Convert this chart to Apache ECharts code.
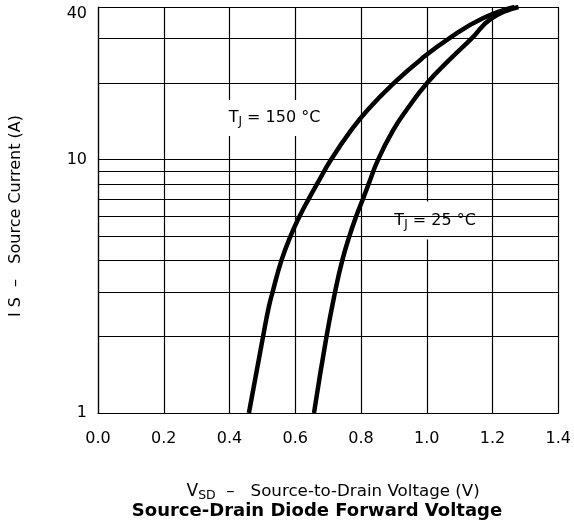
<!DOCTYPE html>
<html>
<head>
<meta charset="utf-8">
<script src="https://cdn.jsdelivr.net/npm/echarts@6/dist/echarts.min.js"></script>
<style>
html, body { margin: 0; padding: 0; background: #fff; }
#chart { width: 574px; height: 525px; }
</style>
</head>
<body>
<div id="chart"></div>
<script>
// axis ticks
const xTicks = [0, 0.2, 0.4, 0.6, 0.8, 1.0, 1.2, 1.4];
const yLabelValues = [1, 10, 40];
const yGridValues = [1, 2, 3, 4, 5, 6, 7, 8, 9, 10, 20, 30, 40];

// TJ = 150 °C  (VSD in V, IS in A)
const vsd150 = [0.459, 0.502, 0.519, 0.531, 0.558, 0.586, 0.614, 0.641, 0.666, 0.709, 0.769, 0.822, 0.903, 0.983, 1.067, 1.169, 1.267];
const is150  = [1, 2, 2.6, 3, 4, 5, 6, 7, 8, 10, 13, 15.8, 20.2, 24.9, 30, 36, 40];

// TJ = 25 °C
const vsd25 = [0.657, 0.695, 0.721, 0.743, 0.765, 0.786, 0.806, 0.823, 0.852, 0.897, 0.940, 1.003, 1.071, 1.136, 1.196, 1.279];
const is25  = [1, 2, 3, 4, 5, 6, 7, 8, 10, 13, 15.8, 20.2, 24.9, 30, 36, 40];

// curve labels, placed at data coordinates
const labelText = ['150', '25'];
const labelV = [0.537, 0.998];
const labelI = [14.6, 5.75];

const FONT = "DejaVu Sans, Liberation Sans, sans-serif";
const pair = (xs, ys) => xs.map((x, i) => [x, ys[i]]);

let chart = echarts.init(document.getElementById("chart"));

chart.setOption({
  animation: false,
  textStyle: { fontFamily: FONT, color: "#000" },
  grid: { left: 96, right: 15, top: 7, bottom: 112 },
  title: {
    text: "Source-Drain Diode Forward Voltage",
    left: 312,
    top: 497,
    textAlign: "center",
    textStyle: { fontSize: 18, fontWeight: "bold", color: "#000", fontFamily: FONT }
  },
  xAxis: {
    type: "value",
    min: 0,
    max: 1.4,
    interval: 0.2,
    name: "{v|V}{s|SD}{n|  –   Source-to-Drain Voltage (V)}",
    nameLocation: "middle",
    nameGap: 68,
    nameTextStyle: {
      padding: [0, 0, 0, 10],
      rich: {
        v: { fontSize: 17, color: "#000", fontFamily: FONT },
        s: { fontSize: 12.5, color: "#000", fontFamily: FONT, padding: [8, 0, 0, 0] },
        n: { fontSize: 16.7, color: "#000", fontFamily: FONT }
      }
    },
    axisTick: { show: false },
    axisLine: { lineStyle: { color: "#000", width: 1.2 } },
    axisLabel: {
      fontSize: 16,
      color: "#000",
      margin: 18,
      formatter: v => v.toFixed(1)
    },
    splitLine: { show: true, lineStyle: { color: "#000", width: 1.2 } }
  },
  yAxis: {
    type: "log",
    logBase: 10,
    min: 1,
    max: 40,
    name: "I S  –   Source Current (A)",
    nameLocation: "middle",
    nameGap: 74,
    nameTextStyle: { fontSize: 16, color: "#000", padding: [0, 12, 0, 0] },
    axisTick: { show: false },
    axisLine: { show: true, lineStyle: { color: "#000", width: 1.2 } },
    axisLabel: {
      fontSize: 16,
      color: "#000",
      margin: 11,
      customValues: yLabelValues,
      formatter: v => (v === 40 ? "{t|40}" : String(v)),
      rich: { t: { fontSize: 16, color: "#000", fontFamily: FONT, padding: [14, 0, 0, 0] } }
    },
    splitLine: { show: false }
  },
  series: [
    {
      // horizontal grid lines of the log axis
      type: "line",
      data: [],
      z: 1,
      markLine: {
        silent: true,
        symbol: "none",
        label: { show: false },
        lineStyle: { color: "#000", width: 1.2, type: "solid" },
        data: yGridValues.map(v => ({ yAxis: v }))
      }
    },
    {
      name: "TJ = 150 °C",
      type: "line",
      z: 5,
      smooth: 0.5,
      showSymbol: false,
      lineStyle: { color: "#000", width: 4.5 },
      data: pair(vsd150, is150)
    },
    {
      name: "TJ = 25 °C",
      type: "line",
      z: 5,
      smooth: 0.5,
      showSymbol: false,
      lineStyle: { color: "#000", width: 4.5 },
      data: pair(vsd25, is25)
    },
    {
      type: "scatter",
      z: 4,
      symbolSize: 1,
      itemStyle: { color: "#fff", opacity: 1 },
      data: labelV.map((v, i) => ({
        value: [v, labelI[i]],
        t: labelText[i],
        label: { padding: i === 0 ? [8, 8, 8, 8] : [9, 11, 9, 29] }
      })),
      label: {
        show: true,
        position: "inside",
        backgroundColor: "#fff",
        color: "#000",
        formatter: p => "{a|T}{s|J}{a| = " + p.data.t + " °C}",
        rich: {
          a: { fontSize: 16, color: "#000", fontFamily: FONT },
          s: { fontSize: 12, color: "#000", fontFamily: FONT, padding: [8, 0, 0, 0] }
        }
      }
    }
  ]
});
</script>
</body>
</html>
